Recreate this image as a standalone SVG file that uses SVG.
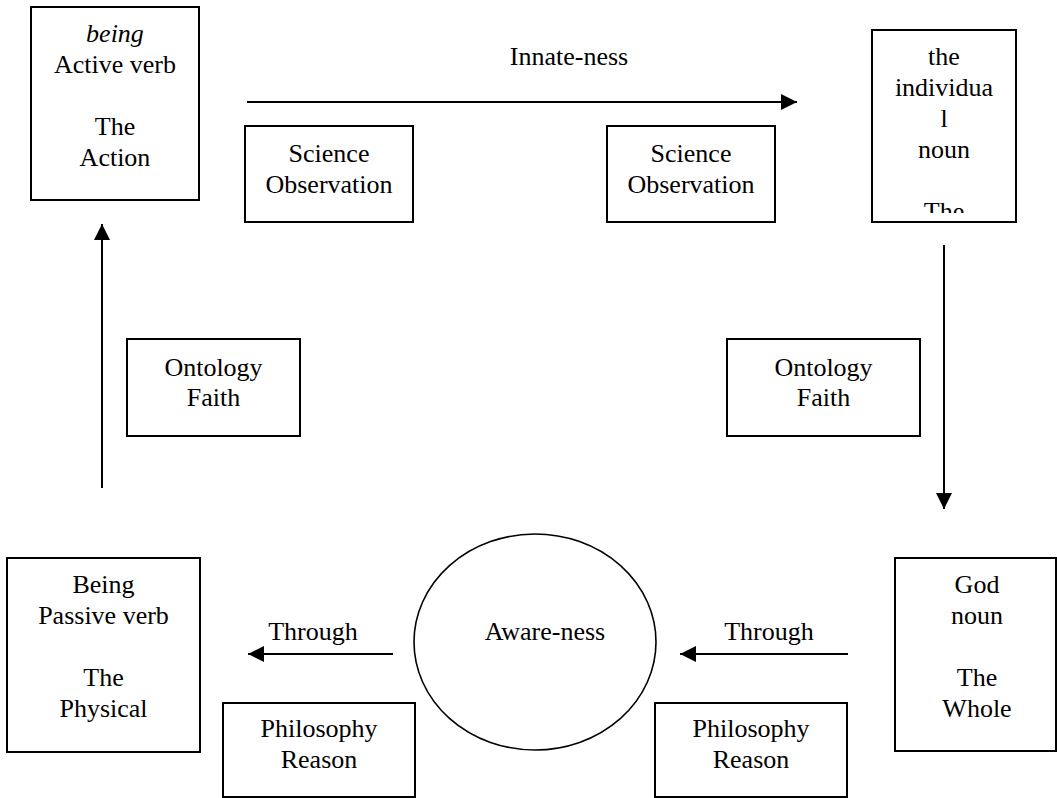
<svg xmlns="http://www.w3.org/2000/svg" width="1057" height="798" viewBox="0 0 1057 798">
  <style>
    .box { fill: #fff; stroke: #000; stroke-width: 2; }
    .ring { fill: #fff; stroke: #000; stroke-width: 1.6; }
    .t { font-family: "Liberation Serif", "Times New Roman", serif; font-size: 26px; fill: #000; text-anchor: middle; }
    .it { font-style: italic; }
    .flow { stroke: #000; stroke-width: 2; fill: none; marker-end: url(#head); }
  </style>
  <defs>
    <marker id="head" markerUnits="userSpaceOnUse" markerWidth="18" markerHeight="16" refX="16" refY="8" orient="auto">
      <path d="M0,0 L16,8 L0,16 Z" fill="#000"/>
    </marker>
    <clipPath id="clipIndividual">
      <rect x="873" y="31" width="142" height="182"/>
    </clipPath>
  </defs>

  <rect width="1057" height="798" fill="#fff"/>

  <!-- connectors and their labels -->
  <g id="connectors">
    <line class="flow" x1="247" y1="102" x2="797" y2="102"/>
    <line class="flow" x1="944" y1="245" x2="944" y2="509"/>
    <line class="flow" x1="848" y1="654" x2="680" y2="654"/>
    <line class="flow" x1="393" y1="654" x2="248" y2="654"/>
    <line class="flow" x1="102" y1="488" x2="102" y2="224"/>
    <text class="t" x="569" y="65">Innate-ness</text>
    <text class="t" x="313" y="640">Through</text>
    <text class="t" x="769" y="640">Through</text>
  </g>

  <!-- being / Active verb -->
  <g id="node-being-active">
    <rect class="box" x="31" y="7" width="168" height="193"/>
    <text class="t it" x="115" y="42">being</text>
    <text class="t" x="115" y="73">Active verb</text>
    <text class="t" x="115" y="135">The</text>
    <text class="t" x="115" y="166">Action</text>
  </g>

  <!-- the individual / noun (text overflows and is clipped by the frame) -->
  <g id="node-individual">
    <rect class="box" x="872" y="30" width="144" height="192"/>
    <g clip-path="url(#clipIndividual)">
      <text class="t" x="944" y="65">the</text>
      <text class="t" x="944" y="96">individua</text>
      <text class="t" x="944" y="127">l</text>
      <text class="t" x="944" y="158">noun</text>
      <text class="t" x="944" y="220">The</text>
    </g>
  </g>

  <!-- Science / Observation (left) -->
  <g id="node-science-left">
    <rect class="box" x="245" y="126" width="168" height="96"/>
    <text class="t" x="329" y="162">Science</text>
    <text class="t" x="329" y="193">Observation</text>
  </g>

  <!-- Science / Observation (right) -->
  <g id="node-science-right">
    <rect class="box" x="607" y="126" width="168" height="96"/>
    <text class="t" x="691" y="162">Science</text>
    <text class="t" x="691" y="193">Observation</text>
  </g>

  <!-- Ontology / Faith (left) -->
  <g id="node-ontology-left">
    <rect class="box" x="127" y="339" width="173" height="97"/>
    <text class="t" x="213.5" y="376">Ontology</text>
    <text class="t" x="213.5" y="406">Faith</text>
  </g>

  <!-- Ontology / Faith (right) -->
  <g id="node-ontology-right">
    <rect class="box" x="727" y="339" width="193" height="97"/>
    <text class="t" x="823.5" y="376">Ontology</text>
    <text class="t" x="823.5" y="406">Faith</text>
  </g>

  <!-- Being / Passive verb -->
  <g id="node-being-passive">
    <rect class="box" x="7" y="558" width="193" height="194"/>
    <text class="t" x="103.5" y="593">Being</text>
    <text class="t" x="103.5" y="624">Passive verb</text>
    <text class="t" x="103.5" y="686">The</text>
    <text class="t" x="103.5" y="717">Physical</text>
  </g>

  <!-- Aware-ness -->
  <g id="node-awareness">
    <ellipse class="ring" cx="535" cy="642" rx="121" ry="108"/>
    <text class="t" x="545" y="640">Aware-ness</text>
  </g>

  <!-- God / noun -->
  <g id="node-god">
    <rect class="box" x="895" y="558" width="161" height="193"/>
    <text class="t" x="977" y="593">God</text>
    <text class="t" x="977" y="624">noun</text>
    <text class="t" x="977" y="686">The</text>
    <text class="t" x="977" y="717">Whole</text>
  </g>

  <!-- Philosophy / Reason (left) -->
  <g id="node-philosophy-left">
    <rect class="box" x="223" y="703" width="192" height="94"/>
    <text class="t" x="319" y="737">Philosophy</text>
    <text class="t" x="319" y="768">Reason</text>
  </g>

  <!-- Philosophy / Reason (right) -->
  <g id="node-philosophy-right">
    <rect class="box" x="655" y="703" width="192" height="94"/>
    <text class="t" x="751" y="737">Philosophy</text>
    <text class="t" x="751" y="768">Reason</text>
  </g>
</svg>
